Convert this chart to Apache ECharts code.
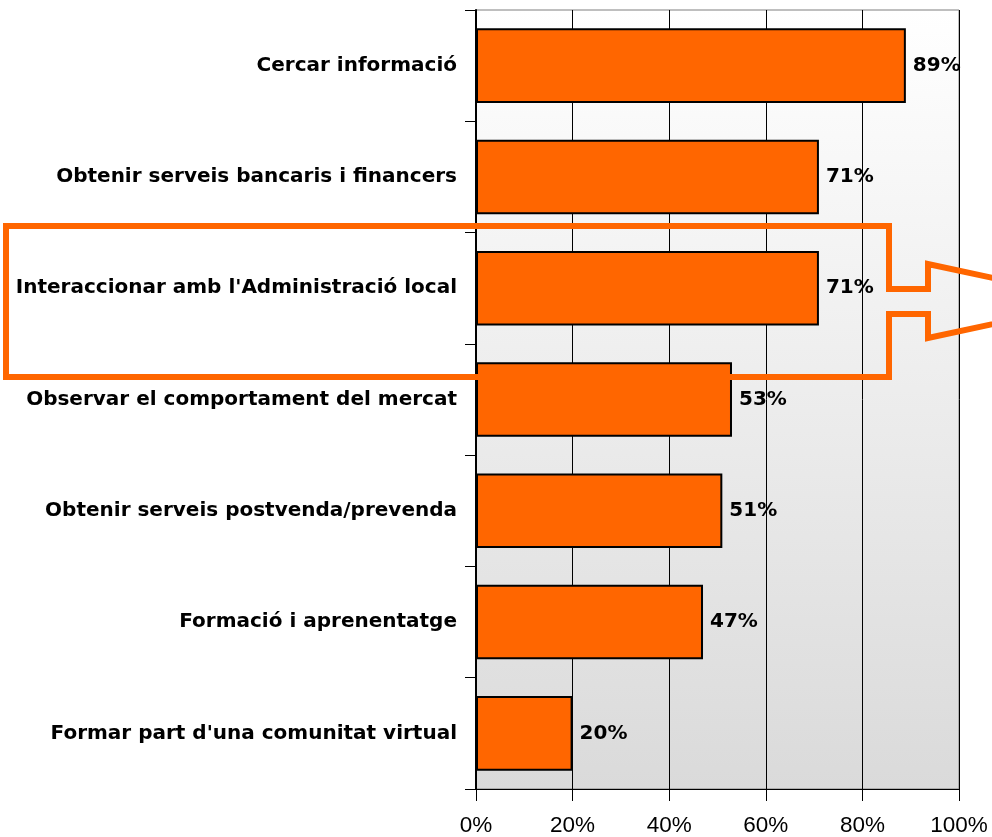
<!DOCTYPE html>
<html>
<head>
<meta charset="utf-8">
<script src="https://cdn.jsdelivr.net/npm/echarts@6/dist/echarts.min.js"></script>
<style>
  html, body { margin: 0; padding: 0; background: #fff; }
  #chart { width: 992px; height: 837px; }
</style>
</head>
<body>
<div id="chart"></div>
<script>
// categories, top to bottom
const categories = [
  'Cercar informació',
  'Obtenir serveis bancaris i financers',
  "Interaccionar amb l'Administració local",
  'Observar el comportament del mercat',
  'Obtenir serveis postvenda/prevenda',
  'Formació i aprenentatge',
  "Formar part d'una comunitat virtual"
];
const values = [89, 71, 71, 53, 51, 47, 20];
const xTicks = [0, 20, 40, 60, 80, 100];

const font = 'Arial, "Liberation Sans", sans-serif';
const boldFont = '"DejaVu Sans", Arial, sans-serif';
const chart = echarts.init(document.getElementById('chart'));

// highlight frame with arrow (annotation only)
const frame = [
  [6, 226], [889, 226], [889, 289], [928, 289], [928, 264], [1100, 301],
  [928, 338], [928, 314], [889, 314], [889, 377], [6, 377]
];

chart.setOption({
  animation: false,
  grid: {
    left: 476, right: 33, top: 10, bottom: 47,
    show: true,
    borderColor: '#7f7f7f',
    borderWidth: 1,
    backgroundColor: new echarts.graphic.LinearGradient(0, 0, 0, 1, [
      { offset: 0, color: '#ffffff' },
      { offset: 1, color: '#dadada' }
    ])
  },
  xAxis: {
    type: 'value',
    min: xTicks[0],
    max: xTicks[xTicks.length - 1],
    interval: 20,
    axisLine: { show: true, lineStyle: { color: '#000', width: 1 } },
    axisTick: { show: true, length: 12, lineStyle: { color: '#000' } },
    axisLabel: {
      formatter: '{value}%', color: '#000', fontSize: 22.5,
      fontFamily: font, margin: 25
    },
    splitLine: { show: true, lineStyle: { color: '#000', width: 1 } }
  },
  yAxis: {
    type: 'category',
    inverse: true,
    data: categories,
    axisLine: { show: true, lineStyle: { color: '#000', width: 2 } },
    axisTick: { show: true, length: 11, lineStyle: { color: '#000' } },
    axisLabel: {
      color: '#000', fontSize: 20, fontWeight: 'bold',
      fontFamily: boldFont, margin: 19, padding: [6, 0, 0, 0]
    }
  },
  series: [{
    type: 'bar',
    data: values,
    barCategoryGap: '33%',
    itemStyle: { color: '#ff6600', borderColor: '#000', borderWidth: 2 },
    label: {
      show: true, position: 'right', distance: 7,
      formatter: '{c}%', color: '#000', fontSize: 20,
      fontWeight: 'bold', fontFamily: boldFont, padding: [6, 0, 0, 0]
    }
  }],
  graphic: [{
    type: 'polygon',
    z: 100,
    shape: { points: frame },
    style: { fill: null, stroke: '#ff6600', lineWidth: 6, lineJoin: 'miter' }
  }]
});
</script>
</body>
</html>
